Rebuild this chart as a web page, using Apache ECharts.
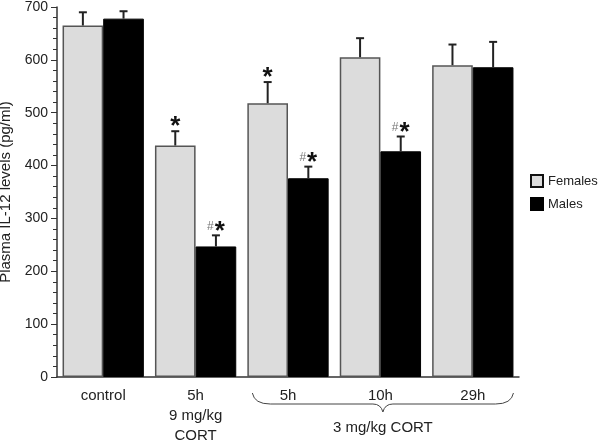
<!DOCTYPE html>
<html>
<head>
<meta charset="utf-8">
<script src="https://cdn.jsdelivr.net/npm/echarts@6/dist/echarts.min.js"></script>
<style>
  html, body { margin: 0; padding: 0; background: #fff; }
  #chart { width: 601px; height: 443px; }
</style>
</head>
<body>
<div id="chart"></div>
<script>
// data
const categories = ['control', '5h\n9 mg/kg\nCORT', '5h', '10h', '29h'];
const females = [665, 438, 518, 605, 590];
const males = [678, 247, 376, 427, 586];
const femalesErr = [25, 27, 40, 36, 39];
const malesErr = [14, 21, 22, 28, 48];
const femalesMark = ['', '*', '*', '', ''];
const malesMark = ['', '#*', '#*', '#*', ''];
const groupLabel = '3 mg/kg CORT';
const groupRange = [2, 4];

const font = 'Liberation Sans, Arial, sans-serif';
const catGap = 0.12;

const chart = echarts.init(document.getElementById('chart'));

// error bar + significance marks
function errorSeries(name, values, errs, marks, side) {
    return {
        name: name + ' err',
        type: 'custom',
        silent: true,
        z: 5,
        data: values.map((v, i) => [i, v, errs[i]]),
        encode: { x: 0, y: 1 },
        renderItem: function (params, api) {
            const i = api.value(0);
            const v = api.value(1);
            const e = api.value(2);
            const catW = api.size([1, 0])[0];
            const barW = catW * (1 - catGap) / 2;
            const base = api.coord([i, v]);
            const x = base[0] + side * barW / 2;
            const top = api.coord([i, v + e])[1];
            const children = [
                { type: 'line', shape: { x1: x, y1: base[1], x2: x, y2: top },
                  style: { stroke: '#222', lineWidth: 2 } },
                { type: 'line', shape: { x1: x - 4, y1: top, x2: x + 4, y2: top },
                  style: { stroke: '#222', lineWidth: 2 } }
            ];
            const m = marks[params.dataIndex];
            if (m) {
                const hasHash = m.indexOf('#') >= 0;
                children.push({
                    type: 'text',
                    x: x,
                    y: top + 9,
                    style: {
                        text: hasHash ? '{h|#}{s|*}' : '{s|*}',
                        align: 'center',
                        verticalAlign: 'bottom',
                        rich: {
                            h: { fontSize: 12, fontFamily: font, fill: '#777', padding: [0, 1, 9, 0] },
                            s: { fontSize: 26, fontWeight: 'bold', fontFamily: font, fill: '#111' }
                        }
                    }
                });
            }
            return { type: 'group', children: children };
        }
    };
}

const option = {
    animation: false,
    backgroundColor: '#fff',
    grid: { left: 57, right: 82, top: 7, bottom: 66, outerBoundsMode: 'none', containLabel: false },
    legend: {
        orient: 'vertical',
        left: 525,
        top: 169,
        itemWidth: 12,
        itemHeight: 12,
        itemGap: 9,
        textStyle: { fontSize: 13, fontFamily: font, color: '#222' },
        data: [
            { name: 'Females', icon: 'rect', itemStyle: { color: '#dcdcdc', borderColor: '#111', borderWidth: 2 } },
            { name: 'Males', icon: 'rect' }
        ]
    },
    xAxis: {
        type: 'category',
        data: categories,
        axisLine: { lineStyle: { color: '#333', width: 1.5 } },
        axisTick: { alignWithLabel: true, length: 3, lineStyle: { color: '#333' } },
        axisLabel: { fontSize: 15, fontFamily: font, color: '#222', margin: 9, lineHeight: 20 }
    },
    yAxis: {
        type: 'value',
        min: 0,
        max: 700,
        interval: 100,
        name: 'Plasma IL-12 levels (pg/ml)',
        nameLocation: 'middle',
        nameGap: 36,
        nameTextStyle: { fontSize: 15, fontFamily: font, color: '#222' },
        axisLine: { show: true, lineStyle: { color: '#333', width: 1.5 } },
        axisTick: { show: true, length: 6, lineStyle: { color: '#333' } },
        minorTick: { show: true, splitNumber: 5, length: 4, lineStyle: { color: '#333' } },
        splitLine: { show: false },
        axisLabel: { fontSize: 14, fontFamily: font, color: '#222', margin: 9 }
    },
    series: [
        {
            name: 'Females',
            type: 'bar',
            data: females,
            barGap: '0%',
            barCategoryGap: (catGap * 100) + '%',
            itemStyle: { color: '#dcdcdc', borderColor: '#555', borderWidth: 1.5 }
        },
        {
            name: 'Males',
            type: 'bar',
            data: males,
            itemStyle: { color: '#000', borderColor: '#000', borderWidth: 1 }
        },
        errorSeries('Females', females, femalesErr, femalesMark, -1),
        errorSeries('Males', males, malesErr, malesMark, 1),
        {
            // brace under the 3 mg/kg groups
            name: 'brace',
            type: 'custom',
            silent: true,
            data: [[groupRange[0], 0, groupRange[1]]],
            encode: { x: 0, y: 1 },
            renderItem: function (params, api) {
                const catW = api.size([1, 0])[0];
                const barW = catW * (1 - catGap) / 2;
                const a = api.coord([api.value(0), 0]);
                const b = api.coord([api.value(2), 0]);
                const L = a[0] - barW + 5;
                const R = b[0] + barW;
                const mid = (L + R) / 2;
                const y0 = a[1];
                const y1 = y0 + 16, y2 = y0 + 27, y3 = y0 + 35;
                const path = 'M' + L + ',' + y1 +
                    ' Q' + (L + 2) + ',' + y2 + ' ' + (L + 18) + ',' + y2 +
                    ' L' + (mid - 10) + ',' + y2 +
                    ' Q' + (mid - 2) + ',' + y2 + ' ' + mid + ',' + y3 +
                    ' Q' + (mid + 2) + ',' + y2 + ' ' + (mid + 10) + ',' + y2 +
                    ' L' + (R - 18) + ',' + y2 +
                    ' Q' + (R - 2) + ',' + y2 + ' ' + R + ',' + y1;
                return {
                    type: 'group',
                    children: [
                        { type: 'path', shape: { pathData: path },
                          style: { fill: 'none', stroke: '#444', lineWidth: 1 } },
                        { type: 'text', x: mid, y: y0 + 51,
                          style: { text: groupLabel, align: 'center', verticalAlign: 'middle',
                                   fontSize: 15, fontFamily: font, fill: '#222' } }
                    ]
                };
            }
        }
    ]
};

chart.setOption(option);
</script>
</body>
</html>
